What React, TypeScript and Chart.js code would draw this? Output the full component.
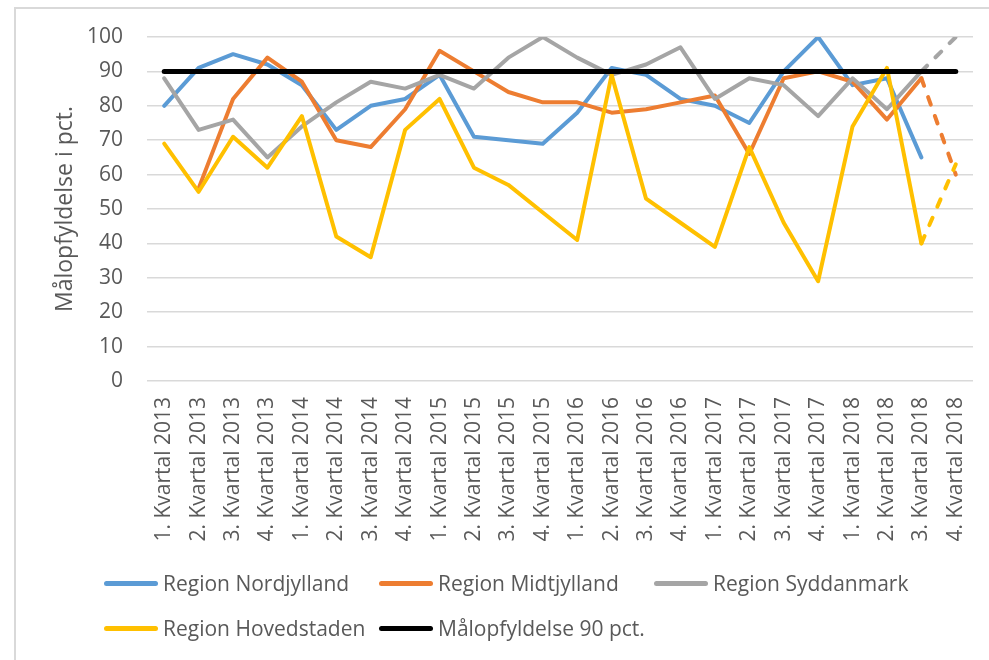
import React, { useEffect, useRef } from "react";
import { Chart, registerables } from "chart.js";

Chart.register(...registerables);

const categories = [
  "1. Kvartal 2013", "2. Kvartal 2013", "3. Kvartal 2013", "4. Kvartal 2013",
  "1. Kvartal 2014", "2. Kvartal 2014", "3. Kvartal 2014", "4. Kvartal 2014",
  "1. Kvartal 2015", "2. Kvartal 2015", "3. Kvartal 2015", "4. Kvartal 2015",
  "1. Kvartal 2016", "2. Kvartal 2016", "3. Kvartal 2016", "4. Kvartal 2016",
  "1. Kvartal 2017", "2. Kvartal 2017", "3. Kvartal 2017", "4. Kvartal 2017",
  "1. Kvartal 2018", "2. Kvartal 2018", "3. Kvartal 2018", "4. Kvartal 2018",
];

const nordjylland = [80, 91, 95, 92, 86, 73, 80, 82, 89, 71, 70, 69, 78, 91, 89, 82, 80, 75, 90, 100, 86, 88, 65, null];
const midtjylland = [null, 56, 82, 94, 87, 70, 68, 79, 96, 90, 84, 81, 81, 78, 79, 81, 83, 66, 88, 90, 87, 76, 88, 60];
const syddanmark = [88, 73, 76, 65, 74, 81, 87, 85, 89, 85, 94, 100, 94, 89, 92, 97, 82, 88, 86, 77, 88, 79, 90, 100];
const hovedstaden = [69, 55, 71, 62, 77, 42, 36, 73, 82, 62, 57, 49, 41, 89, 53, 46, 39, 68, 46, 29, 74, 91, 40, 63];
const maal = [90, 90, 90, 90, 90, 90, 90, 90, 90, 90, 90, 90, 90, 90, 90, 90, 90, 90, 90, 90, 90, 90, 90, 90];

const seriesNames = ["Region Nordjylland", "Region Midtjylland", "Region Syddanmark", "Region Hovedstaden", "Målopfyldelse 90 pct."];
const seriesColors = ["#5b9bd5", "#ed7d31", "#a5a5a5", "#ffc000", "#000000"];
const yTickValues = [0, 10, 20, 30, 40, 50, 60, 70, 80, 90, 100];
const yTitle = "Målopfyldelse i pct.";

const FONT = "'Open Sans', sans-serif";
const TEXT = "#595959";

const legendPos = [
  { left: 104, top: 583 },
  { left: 379, top: 583 },
  { left: 654, top: 583 },
  { left: 104, top: 628 },
  { left: 379, top: 628 },
];

export default function App() {
  const ref = useRef<HTMLCanvasElement | null>(null);

  useEffect(() => {
    if (!ref.current) return;
    const lastDash = (ctx: any) => (ctx.p1DataIndex === categories.length - 1 ? [8, 12] : undefined);
    const allData = [nordjylland, midtjylland, syddanmark, hovedstaden, maal];
    const orders = [4, 3, 2, 1, 0];
    const chart = new Chart(ref.current, {
      type: "line",
      data: {
        labels: categories,
        datasets: allData.map((d, i) => ({
          label: seriesNames[i],
          data: d,
          borderColor: seriesColors[i],
          backgroundColor: seriesColors[i],
          borderWidth: i === 4 ? 5 : 4,
          pointRadius: 0,
          pointHoverRadius: 0,
          tension: 0,
          fill: false,
          spanGaps: false,
          borderCapStyle: "round",
          borderJoinStyle: "round",
          order: orders[i],
          segment: i === 4 ? undefined : { borderDash: lastDash },
        })) as any,
      },
      options: {
        responsive: false,
        animation: false,
        layout: { padding: { left: 0, top: 37, right: 16, bottom: 0 } },
        plugins: {
          legend: { display: false },
          tooltip: { enabled: false },
        },
        scales: {
          x: {
            offset: true,
            grid: { display: false, drawTicks: false },
            border: { display: false },
            ticks: {
              autoSkip: false,
              maxRotation: 90,
              minRotation: 90,
              padding: 16,
              color: TEXT,
              font: { family: FONT, size: 21 },
            },
            afterFit: (s: any) => {
              s.height = 279;
              s.paddingLeft = 0;
              s.paddingRight = 0;
            },
          },
          y: {
            min: 0,
            max: 100,
            afterBuildTicks: (s: any) => {
              s.ticks = yTickValues.map((v) => ({ value: v }));
            },
            grid: { color: "#d9d9d9", lineWidth: 1.5, drawTicks: false },
            border: { display: false },
            ticks: {
              padding: 24,
              color: TEXT,
              font: { family: FONT, size: 21 },
            },
            title: {
              display: true,
              text: yTitle,
              color: TEXT,
              font: { family: FONT, size: 23 },
              padding: { top: 52, bottom: 0 },
            },
            afterFit: (s: any) => {
              s.width = 147;
              s.paddingTop = 0;
              s.paddingBottom = 0;
            },
          },
        },
      },
    });
    return () => chart.destroy();
  }, []);

  return (
    <div style={{ position: "fixed", left: 0, top: 0, width: 989, height: 660, overflow: "hidden", background: "#fff" }}>
      <div
        style={{
          position: "absolute",
          left: 14,
          top: 7,
          width: 1000,
          height: 700,
          border: "2px solid #d9d9d9",
          boxSizing: "border-box",
        }}
      />
      <canvas ref={ref} width={989} height={660} style={{ position: "absolute", left: 0, top: 0 }} />
      {seriesNames.map((n, i) => (
        <div
          key={n}
          style={{
            position: "absolute",
            left: legendPos[i].left,
            top: legendPos[i].top,
            transform: "translateY(-50%)",
            display: "flex",
            alignItems: "center",
            whiteSpace: "nowrap",
            fontFamily: FONT,
            fontSize: 21,
            color: TEXT,
          }}
        >
          <span
            style={{
              display: "inline-block",
              width: 54,
              height: 5,
              borderRadius: 3,
              background: seriesColors[i],
              marginRight: 5,
            }}
          />
          <span>{n}</span>
        </div>
      ))}
    </div>
  );
}
